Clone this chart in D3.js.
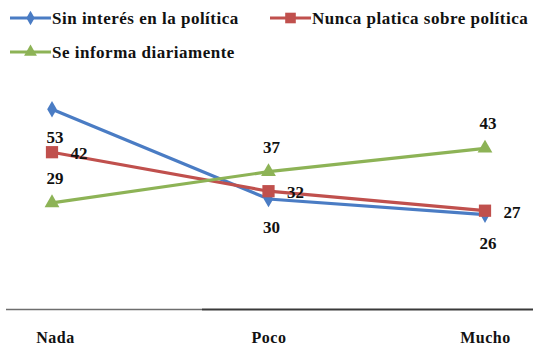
<!DOCTYPE html>
<html>
<head>
<meta charset="utf-8">
<script src="https://cdn.jsdelivr.net/npm/d3@7"></script>
<style>
  html, body { margin: 0; padding: 0; background: #fff; }
  svg { display: block; }
  text { font-family: "Liberation Serif", "DejaVu Serif", serif; font-weight: bold; fill: #111; }
</style>
</head>
<body>
<svg id="chart" width="533" height="345"></svg>
<script>
// Nivel de interés por la política
const categories = ["Nada", "Poco", "Mucho"];
const seriesNames = ["Sin interés en la política", "Nunca platica sobre política", "Se informa diariamente"];
const sinInteres = [53, 30, 26];
const nuncaPlatica = [42, 32, 27];
const seInforma = [29, 37, 43];

const W = 533, H = 345;
const svg = d3.select("#chart");

const x = d3.scalePoint().domain(categories).range([52, 485]);
const y = d3.scaleLinear().domain([0, 80]).range([316, 4]);

const styles = [
  { color: "#4a7cc4", shape: d3.symbolDiamond, size: 80, dx: 3, dy: 34, anchor: "middle" },
  { color: "#c0504d", shape: d3.symbolSquare, size: 150, dx: 27, dy: 7, anchor: "middle" },
  { color: "#8db356", shape: d3.symbolTriangle, size: 95, dx: 3, dy: -19, anchor: "middle" }
];
const values = [sinInteres, nuncaPlatica, seInforma];

// Category axis
const axisY = 309.5;
svg.append("line").attr("x1", 6).attr("x2", 202).attr("y1", axisY).attr("y2", axisY)
  .attr("stroke", "#6e6e6e").attr("stroke-width", 1.5);
svg.append("line").attr("x1", 202).attr("x2", W).attr("y1", axisY).attr("y2", axisY)
  .attr("stroke", "#3a3a3a").attr("stroke-width", 2);

const axis = svg.append("g").attr("transform", `translate(0,${axisY})`)
  .call(d3.axisBottom(x).tickSize(0).tickPadding(22));
axis.select(".domain").remove();
axis.selectAll("text").attr("font-size", 16).attr("fill", "#111")
  .attr("transform", (d, i) => `translate(${[3, 0, 0][i]},0)`)
  .style("letter-spacing", "0.5px")
  .style("font-family", "'Liberation Serif', serif").style("font-weight", "bold");

// Series lines, markers and value labels
const line = d3.line().x((d, i) => x(categories[i])).y(d => y(d));
values.forEach((vals, s) => {
  const st = styles[s];
  const g = svg.append("g");
  g.append("path").datum(vals).attr("d", line)
    .attr("fill", "none").attr("stroke", st.color).attr("stroke-width", 3.2);
  g.selectAll("path.mk").data(vals).join("path").attr("class", "mk")
    .attr("d", d3.symbol().type(st.shape).size(st.size))
    .attr("transform", (d, i) => `translate(${x(categories[i])},${y(d)})`)
    .attr("fill", st.color);
  g.selectAll("text").data(vals).join("text")
    .attr("x", (d, i) => x(categories[i]) + st.dx)
    .attr("y", (d, i) => y(d) + st.dy)
    .attr("text-anchor", st.anchor)
    .attr("font-size", 17)
    .text(d => d);
});

// Legend
const legendPos = [{ x: 10, y: 18 }, { x: 270, y: 18 }, { x: 10, y: 52 }];
seriesNames.forEach((name, s) => {
  const st = styles[s], p = legendPos[s];
  const g = svg.append("g").attr("transform", `translate(${p.x},${p.y})`);
  g.append("line").attr("x1", 0).attr("x2", 41).attr("stroke", st.color).attr("stroke-width", 3.2);
  g.append("path").attr("d", d3.symbol().type(st.shape).size(st.size * 0.75))
    .attr("transform", "translate(20.5,0)").attr("fill", st.color);
  g.append("text").attr("x", 42).attr("y", 6).attr("font-size", 17)
    .style("letter-spacing", "0.5px").text(name);
});
</script>
</body>
</html>
